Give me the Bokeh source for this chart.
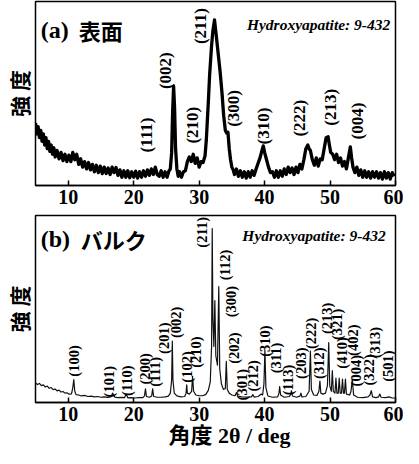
import math
from bokeh.plotting import figure
from bokeh.models import Label, FixedTicker, Range1d, Title
from bokeh.layouts import column
from bokeh.embed import file_html
from bokeh.resources import INLINE
from bokeh.core.properties import value

# ---------------- data ----------------
x_ticks = [10, 20, 30, 40, 50, 60]

# (a) surface pattern (2theta, relative intensity 0-100)
surf_x = [5.0, 5.2, 5.4, 5.6, 5.8, 6.0, 6.2, 6.4, 6.6, 6.8, 7.0, 7.2, 7.4, 7.6, 7.8, 8.0,
          8.3, 8.6, 8.9, 9.2, 9.5, 9.8, 10.1, 10.4, 10.7, 11.0, 11.3, 11.6, 11.9, 12.2,
          12.5, 12.8, 13.1, 13.4, 13.7, 14.0, 14.3, 14.6, 14.9, 15.2, 15.5, 15.8, 16.1,
          16.4, 16.7, 17.0, 17.3, 17.6, 17.9, 18.2, 18.5, 18.8, 19.1, 19.4, 19.7, 20.0,
          20.3, 20.6, 20.9, 21.2, 21.5, 21.8, 22.1, 22.4, 22.7, 23.0, 23.3, 23.6, 23.9,
          24.2, 24.5, 24.8, 25.1, 25.4, 25.6, 25.8, 25.95, 26.1, 26.25, 26.4, 26.6, 26.8,
          27.0, 27.3, 27.6, 27.9, 28.2, 28.5, 28.8, 29.1, 29.4, 29.7, 30.0, 30.3, 30.6,
          30.9, 31.1, 31.4, 31.6, 31.9, 32.1, 32.35, 32.6, 32.9, 33.2, 33.5, 33.75, 34.0,
          34.2, 34.4, 34.6, 34.8, 35.0, 35.2, 35.4, 35.7, 36.0, 36.3, 36.6, 36.9, 37.2,
          37.5, 37.8, 38.1, 38.4, 38.7, 39.0, 39.3, 39.6, 39.8, 40.0, 40.3, 40.6, 40.9,
          41.2, 41.5, 41.8, 42.1, 42.4, 42.7, 43.0, 43.3, 43.6, 43.9, 44.2, 44.5, 44.8,
          45.1, 45.4, 45.7, 46.0, 46.3, 46.6, 46.8, 47.0, 47.3, 47.6, 47.9, 48.2, 48.5,
          48.8, 49.1, 49.4, 49.7, 49.9, 50.1, 50.4, 50.7, 51.0, 51.3, 51.6, 51.9, 52.2,
          52.5, 52.8, 53.1, 53.3, 53.5, 53.8, 54.1, 54.4, 54.7, 55.0, 55.3, 55.6, 55.9,
          56.2, 56.5, 56.8, 57.1, 57.4, 57.7, 58.0, 58.3, 58.6, 58.9, 59.2, 59.5, 59.8, 60.0]
surf_y = [34, 28, 32, 26, 30, 24, 28, 22, 26, 20, 24, 18.5, 22, 17, 20.5, 15.5,
          19, 14.5, 18, 13.5, 17, 13, 16.5, 13, 18, 14, 17, 11.5, 14.5, 10,
          13, 9, 12.5, 8.5, 11.5, 7.5, 11, 7, 10.5, 6.5, 10, 6.5, 9.5,
          6, 10, 7, 9.8, 5.5, 8.5, 4.5, 8, 4.5, 8, 4.2, 7.5, 4.5,
          7.8, 4, 7.5, 4.5, 8, 5, 8.5, 5.5, 9, 6, 10, 6, 5,
          8, 4.5, 7.5, 4.5, 8, 9, 18, 40, 54, 42, 20, 9, 5,
          7.5, 4.5, 7.5, 8, 13, 15.5, 13, 17, 12, 15, 10, 13, 12.5,
          16, 25, 45, 60, 76, 84, 90, 82, 72, 62, 50, 38, 30,
          28.5, 29, 20, 14, 10, 8.5, 6, 9, 5, 8, 4.5, 7.5, 4,
          7.5, 4.5, 8, 5.5, 9, 12, 15, 19, 21.5, 18, 14, 10, 7,
          7.5, 4.5, 8, 4.5, 8, 5, 9, 6, 10, 7, 9.5, 6,
          10, 7, 11.5, 9, 14, 20, 22, 20, 19, 14, 11, 15, 10.5,
          14.5, 14, 20, 26, 26.5, 22, 18, 17, 14, 17, 12.5, 15, 10.5,
          13, 9, 15, 21, 15, 10, 7, 10, 5.5, 8.5, 4.5, 8, 4.5,
          7.5, 4, 7.5, 4.5, 7.5, 4, 7, 3.5, 7.5, 4, 7, 3.5, 7, 5]

surf_hkl = ["(111)", "(002)", "(210)", "(211)", "(300)", "(310)", "(222)", "(213)", "(004)"]
surf_lab_x = [22.0, 24.8, 29.0, 30.2, 35.3, 39.8, 45.4, 50.1, 54.2]
surf_lab_y = [27.4, 62.4, 32.8, 86.6, 41.9, 32.3, 36.6, 42.5, 35.0]

# (b) bulk pattern
bulk_x = [5.0, 5.3, 5.6, 5.9, 6.2, 6.5, 6.8, 7.1, 7.4, 7.7, 8.0, 8.3, 8.6, 8.9, 9.2, 9.5,
          9.8, 10.1, 10.5, 10.7, 10.85, 11.0, 11.2, 11.6, 12.0, 12.5, 13.0, 13.5, 14.0,
          14.5, 15.0, 15.5, 16.0, 16.5, 16.8, 17.1, 17.6, 18.2, 18.6, 18.85, 19.1, 19.6,
          20.2, 20.8, 21.4, 21.65, 21.8, 21.95, 22.4, 22.75, 22.9, 23.05, 23.6, 24.2, 24.8,
          25.3, 25.6, 25.8, 25.9, 26.0, 26.2, 26.6, 27.2, 27.8, 28.0, 28.1, 28.2, 28.5,
          28.85, 29.0, 29.15, 29.5, 30.0, 30.5, 31.0, 31.4, 31.7, 31.9, 32.0, 32.1, 32.25,
          32.4, 32.55, 32.8, 33.0, 33.15, 33.4, 33.7, 34.0, 34.15, 34.3, 34.6, 35.0, 35.5,
          35.7, 35.9, 36.5, 37.2, 38.0, 38.2, 38.4, 39.0, 39.5, 39.7, 39.9, 40.05, 40.2,
          40.5, 41.2, 42.0, 42.2, 42.3, 42.45, 43.0, 43.8, 44.0, 44.1, 44.25, 44.9, 45.4,
          45.55, 45.7, 46.3, 46.8, 47.0, 47.15, 47.5, 48.0, 48.3, 48.45, 48.6, 48.9, 49.3,
          49.6, 49.8, 49.95, 50.2, 50.35, 50.5, 50.75, 50.9, 51.05, 51.25, 51.4, 51.55,
          51.75, 51.9, 52.05, 52.2, 52.35, 52.5, 53.0, 53.2, 53.4, 53.6, 54.2, 55.0, 55.8,
          56.1, 56.3, 56.5, 57.0, 57.4, 57.6, 57.8, 58.5, 59.0, 59.5, 60.0]
bulk_y = [10.5, 9.6, 10.2, 9.0, 9.4, 8.3, 8.8, 7.6, 8.0, 6.9, 7.2, 6.2, 6.6, 5.6, 5.9, 5.0,
          5.2, 4.5, 4.6, 8, 12.2, 6, 4.2, 4.0, 3.5, 3.8, 3.2, 3.4, 3.0,
          3.2, 2.8, 3.0, 2.7, 3.0, 5.0, 2.9, 2.6, 2.7, 2.6, 4.5, 2.5, 2.6,
          2.4, 2.6, 2.6, 3.5, 7.3, 3.2, 2.8, 3.5, 7.3, 3.2, 2.8, 2.8, 3.0,
          3.4, 5.0, 12, 32.8, 12, 5, 3.5, 3.0, 3.2, 5, 9.5, 5, 4.5,
          6, 14, 6, 4.0, 3.6, 3.6, 4.2, 6.5, 11, 30, 93, 45, 30,
          54.5, 25, 20, 62, 18, 10, 7, 7.5, 22, 7, 5, 4, 3.6,
          5.3, 3.4, 3.0, 2.9, 3.0, 4.2, 2.9, 3.2, 4.5, 4.0, 10, 28, 8,
          3.5, 2.8, 3.0, 5, 8.5, 4, 2.8, 3.2, 4.5, 6.3, 3.5, 2.8, 3.4,
          5, 3, 3.2, 6, 27.5, 7, 4, 3.8, 6, 11.5, 5, 4.5, 5,
          9, 32, 9, 6, 17, 6, 5, 13, 5, 5, 13, 5,
          5, 12.5, 5, 5, 12.5, 4.5, 4, 6, 12.5, 4, 2.8, 2.6, 3,
          4, 6.3, 3, 2.6, 3, 4.5, 2.8, 2.6, 3, 2.4, 2.4]

bulk_hkl = ["(100)", "(101)", "(110)", "(200)", "(111)", "(201)", "(002)", "(102)", "(210)",
            "(211)", "(112)", "(300)", "(202)", "(301)", "(212)", "(310)", "(311)", "(113)",
            "(203)", "(222)", "(312)", "(213)", "(321)", "(410)", "(402)", "(004)", "(322)",
            "(313)", "(501)"]
bulk_lab_x = [10.9, 16.3, 19.0, 21.7, 23.2, 24.7, 26.4, 28.2, 29.55,
              30.4, 33.9, 34.8, 35.4, 36.5, 38.2, 40.1, 41.7, 43.6,
              45.5, 47.1, 48.3, 49.6, 51.1, 51.9, 53.5, 54.0, 55.9,
              56.8, 58.8]
bulk_lab_y = [22.2, 11.1, 11.6, 18.0, 16.4, 34.4, 42.9, 19.0, 27.0,
              91.0, 73.5, 54.0, 29.1, 9.5, 14.3, 32.8, 23.8, 12.0,
              21.0, 37.0, 21.0, 45.0, 41.8, 26.5, 33.3, 17.0, 17.5,
              32.0, 19.5]

# ---------------- styling helpers ----------------
SERIF = "Liberation Serif"
CJK = "Noto Sans CJK JP"


def make_fig(height, top, bottom):
    p = figure(width=403, height=height, x_range=Range1d(5, 60), y_range=Range1d(0, 100),
               output_backend="svg", toolbar_location=None,
               min_border_left=32, min_border_right=8,
               min_border_top=top, min_border_bottom=bottom,
               background_fill_color="white", border_fill_color="white")
    p.grid.visible = False
    p.outline_line_color = "black"
    p.outline_line_width = 1.5
    p.outline_line_alpha = 1.0
    ax = p.xaxis[0]
    ax.ticker = FixedTicker(ticks=x_ticks, minor_ticks=[])
    ax.major_tick_in = 5
    ax.major_tick_out = 0
    ax.major_tick_line_width = 1.5
    ax.axis_line_width = 1.5
    ax.major_label_text_font = SERIF
    ax.major_label_text_font_style = "bold"
    ax.major_label_text_font_size = "20px"
    ax.major_label_text_color = "black"
    ax.major_label_standoff = 4
    ay = p.yaxis[0]
    ay.ticker = FixedTicker(ticks=[], minor_ticks=[])
    ay.major_label_text_font_size = "0px"
    ay.major_tick_in = 0
    ay.major_tick_out = 0
    ay.axis_line_color = None
    ay.axis_label = "強 度"
    ay.axis_label_text_font = CJK
    ay.axis_label_text_font_style = "bold"
    ay.axis_label_text_font_size = "21px"
    ay.axis_label_text_color = "black"
    ay.axis_label_standoff = 2
    return p


def add_peak_labels(p, xs, ys, labels, size):
    p.text(x=xs, y=ys, text=labels, angle=math.pi / 2, text_align="center",
           text_baseline="middle", text_font=value(SERIF), text_font_style="bold",
           text_font_size=size, text_color="black")


def add_text(p, x, y, text, font, style, size, align="left"):
    p.add_layout(Label(x=x, y=y, text=text, text_font=font, text_font_style=style,
                       text_font_size=size, text_align=align, text_baseline="alphabetic",
                       text_color="black"))


# ---------------- (a) surface ----------------
p1 = make_fig(214, 1, 29)
p1.line(surf_x, surf_y, line_color="black", line_width=3.3, line_join="round")
add_peak_labels(p1, surf_lab_x, surf_lab_y, surf_hkl, "17px")
add_text(p1, 5.8, 84.4, "(a)", SERIF, "bold", "24px")
add_text(p1, 11.6, 84.4, "表面", CJK, "bold", "22px")
add_text(p1, 59.2, 87.5, "Hydroxyapatite: 9-432", SERIF, "bold italic", "15.5px", "right")

# ---------------- (b) bulk ----------------
p2 = make_fig(234, 1, 45)
p2.line(bulk_x, bulk_y, line_color="#111111", line_width=1.2, line_join="round")
add_peak_labels(p2, bulk_lab_x, bulk_lab_y, bulk_hkl, "14.5px")
add_text(p2, 5.8, 87.3, "(b)", SERIF, "bold", "24px")
add_text(p2, 11.9, 87.3, "バルク", CJK, "bold", "22px")
add_text(p2, 58.5, 89.4, "Hydroxyapatite: 9-432", SERIF, "bold italic", "15.5px", "right")
p2.add_layout(Title(text="角度 2θ / deg", text_font="Liberation Serif, Noto Sans CJK JP",
                    text_font_style="bold", text_font_size="22px", text_color="black",
                    align="left", offset=133, standoff=-2, vertical_align="top"), "below")

layout = column(p1, p2, spacing=0)
open("out.html", "w").write(file_html(layout, INLINE))
